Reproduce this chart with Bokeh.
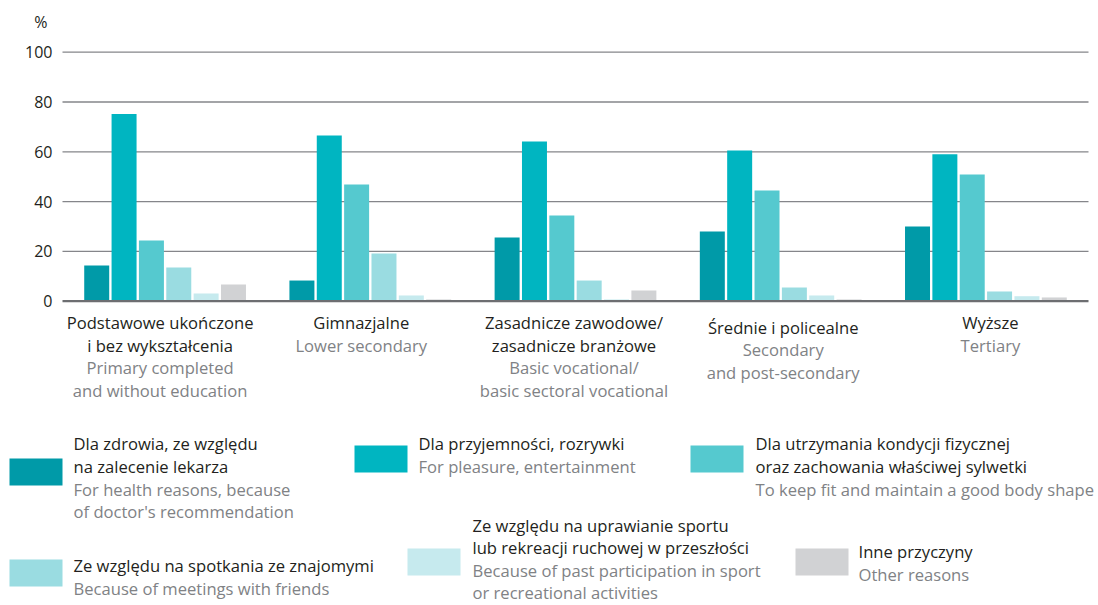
from bokeh.plotting import figure
from bokeh.models import Range1d, ColumnDataSource
from bokeh.core.properties import value
from bokeh.embed import file_html
from bokeh.resources import INLINE

# ---------------- data ----------------
categories_pl = [
    ["Podstawowe ukończone", "i bez wykształcenia"],
    ["Gimnazjalne"],
    ["Zasadnicze zawodowe/", "zasadnicze branżowe"],
    ["Średnie i policealne"],
    ["Wyższe"],
]
categories_en = [
    ["Primary completed", "and without education"],
    ["Lower secondary"],
    ["Basic vocational/", "basic sectoral vocational"],
    ["Secondary", "and post-secondary"],
    ["Tertiary"],
]

series_pl = [
    ["Dla zdrowia, ze względu", "na zalecenie lekarza"],
    ["Dla przyjemności, rozrywki"],
    ["Dla utrzymania kondycji fizycznej", "oraz zachowania właściwej sylwetki"],
    ["Ze względu na spotkania ze znajomymi"],
    ["Ze względu na uprawianie sportu", "lub rekreacji ruchowej w przeszłości"],
    ["Inne przyczyny"],
]
series_en = [
    ["For health reasons, because", "of doctor's recommendation"],
    ["For pleasure, entertainment"],
    ["To keep fit and maintain a good body shape"],
    ["Because of meetings with friends"],
    ["Because of past participation in sport", "or recreational activities"],
    ["Other reasons"],
]

health = [14.3, 8.3, 25.6, 28.0, 30.0]
pleasure = [75.2, 66.5, 64.1, 60.5, 59.0]
fitness = [24.4, 46.9, 34.4, 44.5, 50.9]
friends = [13.5, 19.2, 8.3, 5.5, 3.9]
past_sport = [3.1, 2.3, 0.7, 2.3, 2.0]
other = [6.7, 0.7, 4.3, 0.7, 1.5]
series_values = [health, pleasure, fitness, friends, past_sport, other]

y_ticks = [0, 20, 40, 60, 80, 100]
unit_label = "%"

# ---------------- style / layout ----------------
colors = ["#009aa8", "#00b5c1", "#55c9cf", "#9adce1", "#c6eaee", "#d1d2d4"]
FONT = "Open Sans"
DARK = "#231f20"
GRAY = "#808285"

W, H = 1098, 605
PLOT_LEFT, PLOT_RIGHT = 62, 1088      # pixel columns of the bar area
ZERO_ROW = 300.7                      # pixel row of value 0
PX_PER = 2.49                         # pixels per percentage point
N_CAT = len(categories_pl)
PX_PER_CAT = (PLOT_RIGHT - PLOT_LEFT) / N_CAT

def px_x(px):
    return (px - PLOT_LEFT) / PX_PER_CAT

def px_y(py):
    return (ZERO_ROW - py) / PX_PER

PITCH = 0.1333
BAR_W = 0.1218
LINE_H = 22.5

p = figure(width=W, height=H, output_backend="svg", toolbar_location=None,
           x_range=Range1d(px_x(0), px_x(W)), y_range=Range1d(px_y(H), px_y(0)),
           x_axis_location=None, y_axis_location=None,
           min_border_left=0, min_border_right=0, min_border_top=0, min_border_bottom=0)
p.outline_line_color = None
p.background_fill_color = "white"
p.border_fill_color = "white"
for g in list(p.xgrid) + list(p.ygrid):
    g.visible = False

# grid lines over the bar area
p.segment(x0=[0] * 5, x1=[N_CAT] * 5, y0=y_ticks[1:], y1=y_ticks[1:],
          line_color="#85868a", line_width=1.3)

# bars
n_series = len(series_values)
for j, vals in enumerate(series_values):
    xs = [i + 0.5 + (j - (n_series - 1) / 2) * PITCH for i in range(len(vals))]
    p.vbar(x=xs, top=vals, bottom=0, width=BAR_W, fill_color=colors[j], line_color=None)

# baseline
p.segment(x0=[0], x1=[N_CAT], y0=[0], y1=[0], line_color="#6d6e71", line_width=2.2)

# y tick labels and unit
p.text(x=[0] * len(y_ticks), y=y_ticks, text=[str(t) for t in y_ticks],
       x_offset=-10, text_font=value(FONT), text_font_size=value("16px"),
       text_color=DARK, text_align="right", text_baseline="middle")
p.text(x=[0], y=[px_y(21)], text=[unit_label], x_offset=-15,
       text_font=value(FONT), text_font_size=value("16px"),
       text_color=DARK, text_align="right", text_baseline="middle")

# category labels (below the baseline)
extra_dy = [0, 0, 0, 4.5, 0]
extra_dx = [-5, -9, -1.5, 2.5, 4.5]
cx, cy, ct, co, cxo, cc = [], [], [], [], [], []
for i, (pl, en) in enumerate(zip(categories_pl, categories_en)):
    lines = [(t, DARK) for t in pl] + [(t, GRAY) for t in en]
    for k, (t, c) in enumerate(lines):
        cx.append(i + 0.5)
        cy.append(0)
        ct.append(t)
        co.append(21.5 + k * LINE_H + extra_dy[i])
        cxo.append(extra_dx[i])
        cc.append(c)
p.text(x="x", y="y", text="t", y_offset="o", x_offset="xo", text_color="c",
       source=ColumnDataSource(dict(x=cx, y=cy, t=ct, o=co, xo=cxo, c=cc)),
       text_font=value(FONT), text_font_size=value("16.6px"),
       text_align="center", text_baseline="middle")

# ---------------- legend ----------------
# (swatch left, swatch top, text x, first text line y, line spacing) in pixels
legend_layout = [
    (9, 458, 73, 443, 22.8),
    (354, 445, 418, 443, 22.8),
    (690, 445, 755, 443, 22.8),
    (9, 559, 73, 565, 22.8),
    (407, 548, 472, 525, 22.3),
    (795, 548, 858, 551, 22.8),
]
SW, SH = 53, 27
ql, qr, qt, qb = [], [], [], []
tx, ty, tt, tc = [], [], [], []
for j, (sx, sy, txx, ty0, lh) in enumerate(legend_layout):
    ql.append(px_x(sx)); qr.append(px_x(sx + SW))
    qt.append(px_y(sy)); qb.append(px_y(sy + SH))
    lines = [(t, DARK) for t in series_pl[j]] + [(t, GRAY) for t in series_en[j]]
    for k, (t, c) in enumerate(lines):
        tx.append(px_x(txx)); ty.append(px_y(ty0 + k * lh)); tt.append(t); tc.append(c)
p.quad(left=ql, right=qr, top=qt, bottom=qb, fill_color=colors, line_color=None)
p.text(x="x", y="y", text="t", text_color="c",
       source=ColumnDataSource(dict(x=tx, y=ty, t=tt, c=tc)),
       text_font=value(FONT), text_font_size=value("16.6px"),
       text_align="left", text_baseline="middle")

open("out.html", "w").write(file_html(p, INLINE))
